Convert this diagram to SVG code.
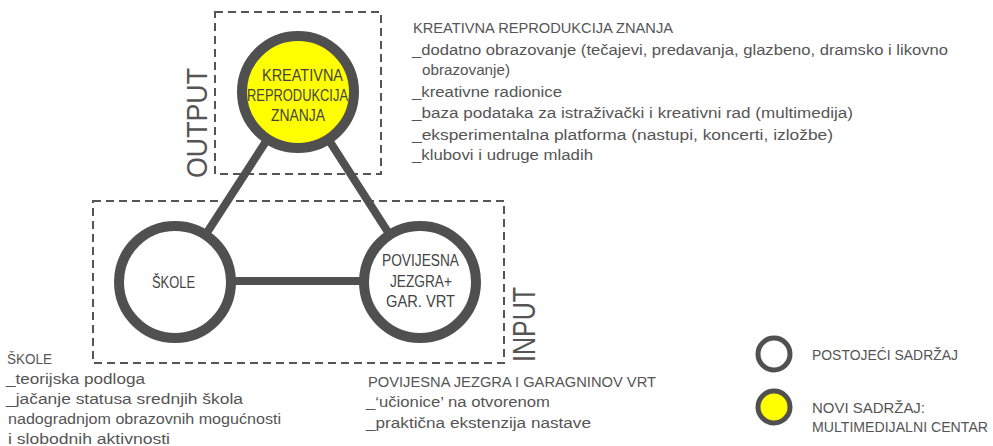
<svg xmlns="http://www.w3.org/2000/svg" width="993" height="446" viewBox="0 0 993 446">
<style>
.box{fill:none;stroke:#555;stroke-width:2;stroke-dasharray:8 5}
.node{fill:#fff;stroke:#505050;stroke-width:10}
.new{fill:#ffff00}
.conn{stroke:#505050;stroke-width:8;fill:none}
.lbl{font-family:"Liberation Sans",Arial,sans-serif;font-size:16px;fill:#444}
.txt{font-family:"Liberation Sans",Arial,sans-serif;font-size:14px;fill:#555}
.big{font-family:"Liberation Sans",Arial,sans-serif;fill:#555}
</style>
<rect width="993" height="446" fill="#fff"/>
<g id="frames">
<rect class="box" x="215" y="12" width="166" height="162"/>
<rect class="box" x="93" y="201" width="411" height="162"/>
<text class="big" font-size="29" transform="translate(207,178) rotate(-90)" textLength="110" lengthAdjust="spacingAndGlyphs">OUTPUT</text>
<text class="big" font-size="31" transform="translate(535,362) rotate(-90)" textLength="75" lengthAdjust="spacingAndGlyphs">INPUT</text>
</g>
<g id="connectors">
<line class="conn" x1="298" y1="92" x2="175" y2="282"/>
<line class="conn" x1="298" y1="92" x2="420" y2="282"/>
<line class="conn" x1="175" y1="281" x2="420" y2="281"/>
</g>
<g id="node-kreativna">
<circle class="node new" cx="298" cy="92" r="56"/>
<text class="lbl" x="262" y="81" textLength="81" lengthAdjust="spacingAndGlyphs">KREATIVNA</text>
<text class="lbl" x="247" y="101" textLength="101" lengthAdjust="spacingAndGlyphs">REPRODUKCIJA</text>
<text class="lbl" x="271" y="121" textLength="54" lengthAdjust="spacingAndGlyphs">ZNANJA</text>
</g>
<g id="node-skole">
<circle class="node" cx="175" cy="282" r="56"/>
<text class="lbl" x="152" y="288" textLength="43" lengthAdjust="spacingAndGlyphs">ŠKOLE</text>
</g>
<g id="node-povijesna">
<circle class="node" cx="420" cy="282" r="56"/>
<text class="lbl" x="382" y="266" textLength="77" lengthAdjust="spacingAndGlyphs">POVIJESNA</text>
<text class="lbl" x="390" y="287" textLength="62" lengthAdjust="spacingAndGlyphs">JEZGRA+</text>
<text class="lbl" x="386" y="307" textLength="69" lengthAdjust="spacingAndGlyphs">GAR. VRT</text>
</g>
<g id="text-kreativna">
<text class="txt" x="413" y="33" textLength="260" lengthAdjust="spacingAndGlyphs">KREATIVNA REPRODUKCIJA ZNANJA</text>
<text class="txt" x="412" y="55" textLength="536" lengthAdjust="spacingAndGlyphs">_dodatno obrazovanje (tečajevi, predavanja, glazbeno, dramsko i likovno</text>
<text class="txt" x="422" y="75" textLength="88" lengthAdjust="spacingAndGlyphs">obrazovanje)</text>
<text class="txt" x="412" y="97" textLength="150" lengthAdjust="spacingAndGlyphs">_kreativne radionice</text>
<text class="txt" x="412" y="118" textLength="441" lengthAdjust="spacingAndGlyphs">_baza podataka za istraživački i kreativni rad (multimedija)</text>
<text class="txt" x="412" y="140" textLength="421" lengthAdjust="spacingAndGlyphs">_eksperimentalna platforma (nastupi, koncerti, izložbe)</text>
<text class="txt" x="412" y="160" textLength="181" lengthAdjust="spacingAndGlyphs">_klubovi i udruge mladih</text>
</g>
<g id="text-skole">
<text class="txt" x="7" y="364" textLength="45" lengthAdjust="spacingAndGlyphs">ŠKOLE</text>
<text class="txt" x="6" y="384" textLength="139" lengthAdjust="spacingAndGlyphs">_teorijska podloga</text>
<text class="txt" x="6" y="404" textLength="237" lengthAdjust="spacingAndGlyphs">_jačanje statusa srednjih škola</text>
<text class="txt" x="8" y="424" textLength="273" lengthAdjust="spacingAndGlyphs">nadogradnjom obrazovnih mogućnosti</text>
<text class="txt" x="8" y="444" textLength="162" lengthAdjust="spacingAndGlyphs">i slobodnih aktivnosti</text>
</g>
<g id="text-povijesna">
<text class="txt" x="368" y="387" textLength="288" lengthAdjust="spacingAndGlyphs">POVIJESNA JEZGRA I GARAGNINOV VRT</text>
<text class="txt" x="366" y="407" textLength="184" lengthAdjust="spacingAndGlyphs">_‘učionice’ na otvorenom</text>
<text class="txt" x="366" y="428" textLength="225" lengthAdjust="spacingAndGlyphs">_praktična ekstenzija nastave</text>
</g>
<g id="legend">
<circle cx="774" cy="354" r="16" fill="#fff" stroke="#505050" stroke-width="5"/>
<circle cx="774" cy="407" r="16" fill="#ffff00" stroke="#505050" stroke-width="5"/>
<text class="txt" x="812" y="360" textLength="146" lengthAdjust="spacingAndGlyphs">POSTOJEĆI SADRŽAJ</text>
<text class="txt" x="812" y="413" textLength="113" lengthAdjust="spacingAndGlyphs">NOVI SADRŽAJ:</text>
<text class="txt" x="812" y="432" textLength="176" lengthAdjust="spacingAndGlyphs">MULTIMEDIJALNI CENTAR</text>
</g>
</svg>
